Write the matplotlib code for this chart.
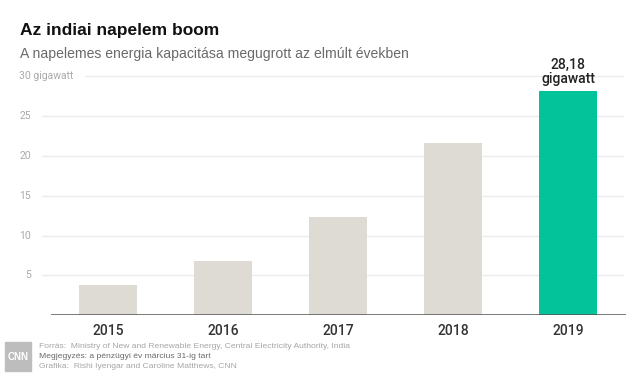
import matplotlib.pyplot as plt
from matplotlib.transforms import blended_transform_factory
from matplotlib.patches import Rectangle

years = ['2015', '2016', '2017', '2018', '2019']
capacity = [3.74, 6.76, 12.29, 21.61, 28.18]
bar_colors = ['#dedbd5', '#dedbd5', '#dedbd5', '#dedbd5', '#02c39a']
y_ticks = [5, 10, 15, 20, 25, 30]
y_tick_labels = ['5', '10', '15', '20', '25', '30 gigawatt']

W, H = 644, 378
fig = plt.figure(figsize=(W / 100, H / 100), dpi=100)
plt.rcParams['font.family'] = ['Roboto', 'DejaVu Sans']

ax = fig.add_axes([50.7 / W, 1 - 315.3 / H, 575 / W, (315.3 - 76) / H])
ax.set_xlim(-0.5, 4.5)
ax.set_ylim(0, 30)

# gridlines (extend a bit left of the axes, like the original)
for v in y_ticks:
    xmin = -0.015 if v != 30 else 0.06
    ax.axhline(v, xmin=xmin, xmax=0.995, color='#ececec', lw=1, zorder=0, clip_on=False)

ax.bar(range(len(years)), capacity, width=0.5, color=bar_colors, zorder=2)
ax.axhline(0, color='#555555', lw=1.1, zorder=3)

for s in ax.spines.values():
    s.set_visible(False)
ax.set_yticks([])
ax.set_xticks(range(len(years)))
ax.set_xticklabels(years, fontsize=10, color='#333333', fontweight='medium')
ax.tick_params(axis='x', length=0, pad=6)

# y labels positioned in figure x, data y
tr = blended_transform_factory(fig.transFigure, ax.transData)
for v, lab in zip(y_ticks, y_tick_labels):
    if v == 30:
        ax.text(19 / W, v, lab, transform=tr, ha='left', va='center', fontsize=7.5, color='#aaaaaa')
    else:
        ax.text(31 / W, v, lab, transform=tr, ha='right', va='center', fontsize=7.5, color='#aaaaaa')

# value annotation on the last bar
ax.text(4, capacity[-1] + 0.6, '28,18\ngigawatt', ha='center', va='bottom', fontsize=10,
        fontweight='medium', color='#222222', linespacing=0.95)

# titles
fig.text(20 / W, 1 - 30 / H, 'Az indiai napelem boom', ha='left', va='center',
         fontsize=12.5, fontweight='bold', color='#111111', family=['Liberation Sans', 'DejaVu Sans'])
fig.text(20 / W, 1 - 54 / H, 'A napelemes energia kapacitása megugrott az elmúlt években', ha='left',
         va='center', fontsize=10.1, color='#6a6a6a', family=['Liberation Sans', 'DejaVu Sans'])

# footer with CNN badge
fig.patches.append(Rectangle((5 / W, 1 - 371 / H), 26 / W, 29 / H, transform=fig.transFigure,
                             color='#bdbdbd', zorder=1))
fig.text(18 / W, 1 - 356.5 / H, 'CNN', ha='center', va='center', fontsize=7, fontweight='bold',
         color='white', family=['Liberation Sans', 'DejaVu Sans'])
foot = ['Forrás:  Ministry of New and Renewable Energy, Central Electricity Authority, India',
        'Megjegyzés: a pénzügyi év március 31-ig tart',
        'Grafika:  Rishi Iyengar and Caroline Matthews, CNN']
foot_colors = ['#a5a5a5', '#6a6a6a', '#a5a5a5']
for i, (t, c) in enumerate(zip(foot, foot_colors)):
    fig.text(39 / W, 1 - (346.5 + 10 * i) / H, t, ha='left', va='center', fontsize=6.1,
             color=c, family=['Liberation Sans', 'DejaVu Sans'])

fig.savefig('out.png', dpi=100)
